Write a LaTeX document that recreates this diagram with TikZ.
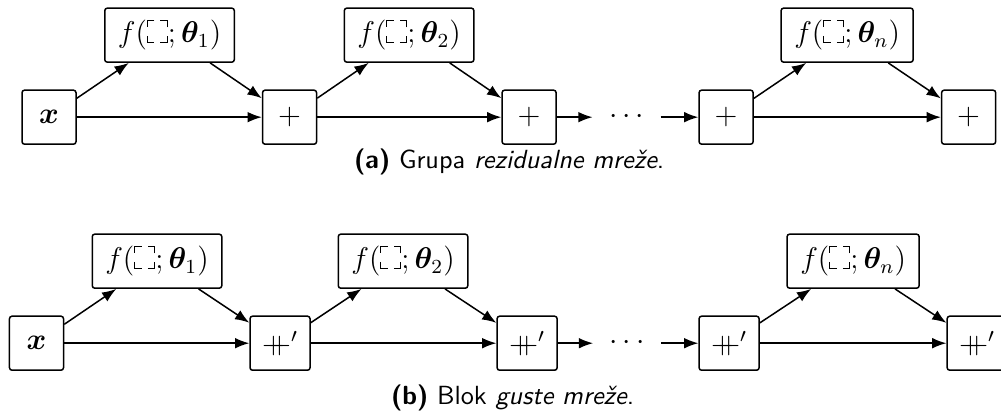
\documentclass[tikz,border=0pt]{standalone}
\usepackage{bm}
\usetikzlibrary{arrows.meta}

% prazno mjesto za argument (samo kutovi)
\newcommand{\argslot}{\tikz[baseline=0pt, line width=0.4pt, sharp corners]{\draw (0,2.7pt) |- (2.8pt,0) (5.2pt,0) -| (8pt,2.7pt) (8pt,6.1pt) |- (5.2pt,8.8pt) (2.8pt,8.8pt) -| (0,6.1pt);}}
% konkatenacija
\newcommand{\catop}{{+\mkern-10mu+}'}

\begin{document}
\begin{tikzpicture}[
    blk/.style={draw, semithick, rounded corners=1pt, minimum size=21.6pt, font=\large},
    fblk/.style={blk, minimum width=51.8pt},
    cblk/.style={blk, minimum width=24pt},
    gap/.style={minimum width=26.8pt, inner sep=0pt, font=\large},
    conn/.style={-{Latex}, semithick},
    caption/.style={font=\sffamily\fontsize{10.5}{12}\selectfont}
  ]
    \useasboundingbox (0,0) rectangle (14.07,5.85);

    % (a) grupa rezidualne mreze
    \node[blk] (xa) at (0.689,4.203) {$\bm{x}$};
    \node[fblk] (fa1) at (2.383,5.356) {$f(\argslot;\bm{\theta}_1)$};
    \node[blk] (pa1) at (4.070,4.203) {$+$};
    \node[fblk] (fa2) at (5.750,5.356) {$f(\argslot;\bm{\theta}_2)$};
    \node[blk] (pa2) at (7.437,4.203) {$+$};
    \node[gap] (da) at (8.807,4.203) {$\cdots$};
    \node[blk] (pa3) at (10.206,4.203) {$+$};
    \node[fblk, minimum width=52.8pt] (fan) at (11.907,5.356) {$f(\argslot;\bm{\theta}_n)$};
    \node[blk] (pa4) at (13.615,4.203) {$+$};

    \draw[conn] (xa) -- (fa1);
    \draw[conn] (fa1) -- (pa1);
    \draw[conn] (xa) -- (pa1);
    \draw[conn] (pa1) -- (fa2);
    \draw[conn] (fa2) -- (pa2);
    \draw[conn] (pa1) -- (pa2);
    \draw[conn] (pa2) -- (da);
    \draw[conn] (da) -- (pa3);
    \draw[conn] (pa3) -- (fan);
    \draw[conn] (fan) -- (pa4);
    \draw[conn] (pa3) -- (pa4);

    \node[caption] (capa) at (7.156,3.571) {\textbf{(a)} Grupa \textit{rezidualne mreže}.};

    % (b) blok guste mreze
    \node[blk] (xb) at (0.513,1.026) {$\bm{x}$};
    \node[fblk] (fb1) at (2.207,2.179) {$f(\argslot;\bm{\theta}_1)$};
    \node[cblk] (cb1) at (3.936,1.026) {$\catop$};
    \node[fblk] (fb2) at (5.665,2.179) {$f(\argslot;\bm{\theta}_2)$};
    \node[cblk] (cb2) at (7.409,1.026) {$\catop$};
    \node[gap] (db) at (8.814,1.026) {$\cdots$};
    \node[cblk] (cb3) at (10.248,1.026) {$\catop$};
    \node[fblk, minimum width=52.8pt] (fbn) at (11.991,2.179) {$f(\argslot;\bm{\theta}_n)$};
    \node[cblk] (cb4) at (13.735,1.026) {$\catop$};

    \draw[conn] (xb) -- (fb1);
    \draw[conn] (fb1) -- (cb1);
    \draw[conn] (xb) -- (cb1);
    \draw[conn] (cb1) -- (fb2);
    \draw[conn] (fb2) -- (cb2);
    \draw[conn] (cb1) -- (cb2);
    \draw[conn] (cb2) -- (db);
    \draw[conn] (db) -- (cb3);
    \draw[conn] (cb3) -- (fbn);
    \draw[conn] (fbn) -- (cb4);
    \draw[conn] (cb3) -- (cb4);

    \node[caption] (capb) at (7.205,0.253) {\textbf{(b)} Blok \textit{guste mreže}.};
\end{tikzpicture}
\end{document}
